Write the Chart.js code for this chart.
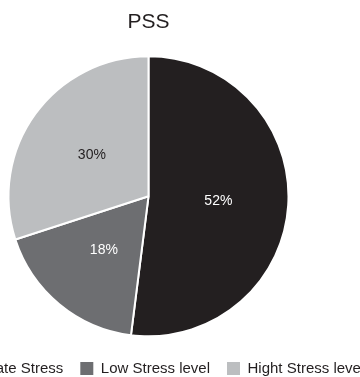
<!DOCTYPE html>
<html>
<head>
<meta charset="utf-8">
<script src="https://cdn.jsdelivr.net/npm/chart.js@4.4.0/dist/chart.umd.min.js"></script>
<style>
    html, body {
        margin: 0;
        padding: 0;
        background: #ffffff;
    }
    body {
        width: 360px;
        height: 377px;
        overflow: hidden;
        position: relative;
    }
    #chartBox {
        position: absolute;
        left: -91px;
        top: 0;
        width: 479px;
        height: 386px;
    }
</style>
</head>
<body>
<div id="chartBox">
    <canvas id="pssChart"></canvas>
</div>
<script>
// PSS stress levels
var stressLabels = ['Moderate Stress', 'Low Stress level', 'Hight Stress level'];
var stressShares = [52, 18, 30];
var sliceColors = ['#231f20', '#6d6e71', '#bcbec0'];
var valueColors = ['#ffffff', '#ffffff', '#231f20'];

var fontFamily = '"Liberation Sans", Arial, sans-serif';

// Writes the percentage in the middle of each slice
var sliceValuePlugin = {
    id: 'sliceValues',
    afterDatasetsDraw: function(chart) {
        var ctx = chart.ctx;
        var meta = chart.getDatasetMeta(0);
        ctx.save();
        ctx.font = '14px ' + fontFamily;
        ctx.textAlign = 'center';
        ctx.textBaseline = 'middle';
        meta.data.forEach(function(arc, i) {
            var pos = arc.tooltipPosition();
            ctx.fillStyle = valueColors[i];
            ctx.fillText(stressShares[i] + '%', pos.x, pos.y);
        });
        ctx.restore();
    }
};

var ctxPss = document.getElementById('pssChart').getContext('2d');
var pssChart = new Chart(ctxPss, {
    type: 'pie',
    data: {
        labels: stressLabels,
        datasets: [{
            data: stressShares,
            backgroundColor: sliceColors,
            borderColor: '#ffffff',
            borderWidth: 2,
            radius: 140
        }]
    },
    options: {
        responsive: true,
        maintainAspectRatio: false,
        animation: false,
        layout: {
            padding: 0
        },
        plugins: {
            title: {
                display: true,
                text: 'PSS',
                color: '#231f20',
                font: { family: fontFamily, size: 21, weight: 'normal' },
                padding: { top: 10, bottom: 13.4 }
            },
            legend: {
                position: 'bottom',
                labels: {
                    color: '#231f20',
                    font: { family: fontFamily, size: 15 },
                    boxWidth: 13,
                    boxHeight: 13,
                    padding: 17,
                    generateLabels: function(chart) {
                        var items = Chart.overrides.pie.plugins.legend.labels.generateLabels(chart);
                        items.forEach(function(item) {
                            item.lineWidth = 0;
                        });
                        return items;
                    }
                }
            },
            tooltip: { enabled: false }
        }
    },
    plugins: [sliceValuePlugin]
});
</script>
</body>
</html>
